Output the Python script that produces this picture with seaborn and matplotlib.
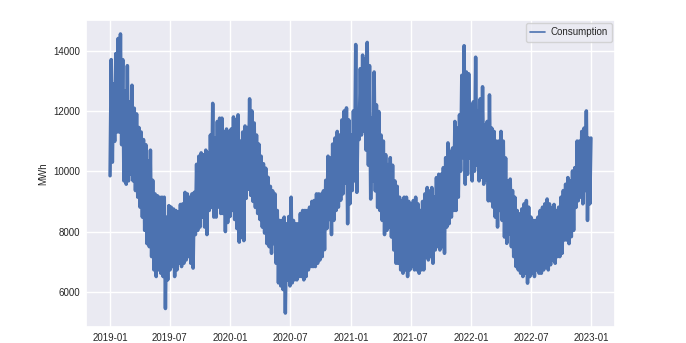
import numpy as np
import pandas as pd
import matplotlib
matplotlib.use("Agg")
import matplotlib.pyplot as plt
import matplotlib.dates as mdates
from matplotlib.ticker import MultipleLocator
import seaborn as sns

# Weekly envelope of hourly consumption (MWh), weeks from 2019-01-01
week_high = [
    13700, 12900, 13900, 14400, 14550, 13700, 12650, 13500, 12300, 12850,
    12090, 11900, 11450, 11300, 11050, 10880, 10350, 10700, 9700, 9250,
    9190, 9140, 9140, 9140, 8480, 8860, 8810, 8750, 8700, 8650,
    8900, 8920, 9300, 9250, 9140, 9250, 9300, 10230, 10500, 10610,
    10550, 10700, 10600, 11200, 12250, 11100, 11650, 11760, 11760, 11300,
    11400, 11300, 11400, 11800, 11700, 11870, 11000, 11300, 11500, 11450,
    12400, 12000, 11600, 11200, 10900, 10500, 10250, 10100, 9800, 9500,
    9350, 9250, 8700, 8370, 8370, 8480, 8260, 8500, 9140, 8370,
    8260, 8260, 8600, 8700, 8700, 8700, 8810, 9000, 9030, 9250,
    9250, 9240, 9350, 9700, 10500, 10440, 10900, 11100, 11320, 11200,
    11700, 12000, 12100, 11700, 11200, 12000, 14200, 12000, 13400, 13850,
    13730, 14270, 13500, 11760, 13290, 12200, 11980, 11200, 11000, 10550,
    10220, 10450, 10200, 9680, 9500, 9140, 9030, 9140, 9140, 9000,
    8920, 9030, 9140, 8920, 8700, 9000, 9250, 9460, 9350, 9460,
    9140, 9790, 9900, 9900, 10120, 10450, 10940, 10660, 10770, 11650,
    11430, 11870, 13180, 14160, 13290, 13230, 12200, 12300, 13780, 11980,
    12400, 12800, 11540, 11650, 12530, 11430, 11320, 11000, 11000, 11320,
    11000, 10440, 9680, 9740, 9360, 9140, 8700, 8590, 8750, 8920,
    9030, 8810, 8480, 8370, 8370, 8480, 8700, 8810, 8920, 9080,
    8920, 8800, 8900, 8700, 8810, 9140, 9360, 9570, 9790, 9680,
    10010, 10120, 11000, 11000, 11320, 11430, 12000, 11100, 11100,
]
week_low = [
    9850, 10300, 10990, 11300, 11300, 10880, 9680, 9570, 9680, 9900,
    9680, 9360, 9140, 8810, 8480, 8040, 7600, 7500, 7170, 6730,
    6510, 6730, 6620, 6510, 5450, 6400, 6730, 6840, 6510, 6730,
    6950, 6840, 6950, 7060, 7170, 6950, 6790, 7900, 8040, 8150,
    8480, 8150, 7900, 8700, 8800, 8480, 8480, 8810, 8600, 8600,
    8000, 8300, 8500, 8700, 8400, 8100, 7650, 7800, 7700, 9100,
    9400, 9200, 9000, 8800, 8600, 8400, 8150, 7950, 7600, 7500,
    7280, 7600, 6950, 6300, 6200, 6080, 5300, 6400, 6200, 6300,
    6400, 6400, 6510, 6510, 6400, 6510, 6730, 6840, 6840, 6840,
    6950, 7060, 7170, 7400, 8100, 8400, 7900, 8370, 8700, 8810,
    9040, 9250, 9600, 8260, 8920, 9360, 9680, 9300, 11050, 11200,
    11320, 10700, 10200, 9080, 9680, 9350, 8800, 8700, 8370, 7900,
    8040, 8150, 7820, 7390, 6950, 6950, 6730, 6620, 6730, 6510,
    6730, 6840, 6730, 6730, 6620, 6730, 6730, 7170, 7060, 7170,
    6950, 7390, 7500, 7390, 7500, 7280, 8150, 8260, 8480, 8700,
    8700, 9140, 10000, 10450, 9570, 9900, 10440, 9680, 10000, 10200,
    9680, 9800, 9570, 9700, 9020, 9020, 8810, 8480, 8150, 8700,
    8370, 7820, 7610, 7920, 7500, 7170, 6840, 6730, 6620, 6510,
    6620, 6290, 6510, 6620, 6510, 6730, 6620, 6620, 6730, 6840,
    6730, 6900, 7060, 6950, 7170, 7170, 7280, 7720, 7720, 7600,
    7830, 8040, 8800, 9020, 9140, 8920, 9360, 8370, 8920,
]
start_date = "2019-01-01"
series_label = "Consumption"
y_label = "MWh"

week_start = pd.date_range(start_date, periods=len(week_high), freq="7D")
times, values = [], []
for t, lo, hi in zip(week_start, week_low, week_high):
    times.append(t)
    values.append(lo)
    times.append(t + pd.Timedelta(hours=84))
    values.append(hi)
df = pd.DataFrame({"time": times, "MWh": values})

sns.set_theme(style="darkgrid")
plt.rcParams["font.family"] = ["Liberation Sans", "DejaVu Sans"]

fig, ax = plt.subplots(figsize=(6.86, 3.43), dpi=100)
fig.subplots_adjust(left=0.1254, right=0.8965, top=0.9417, bottom=0.0466)

sns.lineplot(data=df, x="time", y="MWh", ax=ax, label=series_label,
             color="#4c72b0", linewidth=2.5, estimator=None)

ax.xaxis.set_major_locator(mdates.MonthLocator(bymonth=[1, 7]))
ax.xaxis.set_major_formatter(mdates.DateFormatter("%Y-%m"))
ax.yaxis.set_major_locator(MultipleLocator(2000))
ax.set_xlabel("")
ax.set_ylabel(y_label, fontsize=7, labelpad=4)
ax.tick_params(axis="both", labelsize=7, length=0, pad=4)
leg = ax.legend(loc="upper right", fontsize=7, handlelength=1.5,
                handletextpad=0.6, borderpad=0.45, borderaxespad=0.3)
for line in leg.get_lines():
    line.set_linewidth(1.2)

fig.savefig("out.png", dpi=100)
